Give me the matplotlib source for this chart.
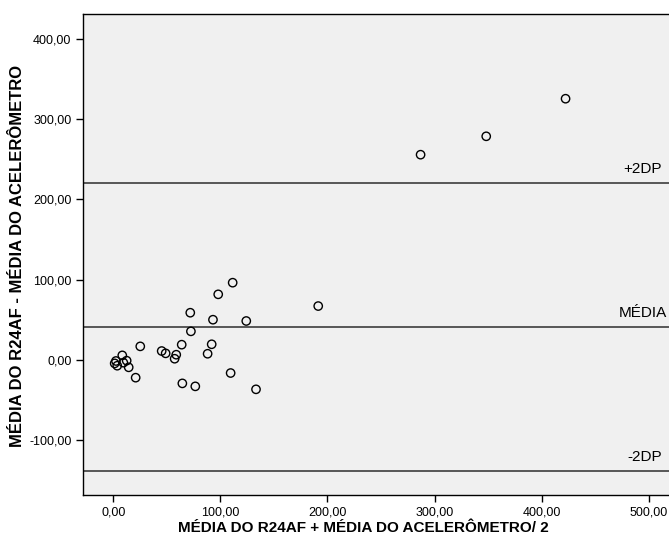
import matplotlib
matplotlib.use("Agg")
import matplotlib.pyplot as plt
from matplotlib.ticker import FuncFormatter

plt.rcParams['font.family'] = ['Liberation Sans', 'DejaVu Sans']

# mean of the two methods (x) and difference (y)
media = [111.5, 98.0, 71.9, 93.1, 124.2, 72.5, 25.2, 63.9, 91.9, 45.2,
         48.9, 58.8, 57.3, 88.1, 8.4, 12.5, 2.5, 1.3, 3.7, 9.4,
         14.4, 20.9, 64.5, 76.6, 109.6, 133.3, 191.4, 287.0, 348.3, 422.4]
diferenca = [96.3, 81.8, 58.9, 50.2, 48.6, 35.7, 17.0, 19.1, 19.6, 11.2,
             8.3, 6.6, 1.6, 7.8, 5.8, -0.8, -1.2, -4.2, -7.1, -3.3,
             -9.1, -22.0, -29.1, -32.8, -16.2, -36.5, 67.2, 255.7, 278.6, 325.4]

media_dif = 40.7
lim_sup = 220.0
lim_inf = -138.6

xticks = [0, 100, 200, 300, 400, 500]
yticks = [-100, 0, 100, 200, 300, 400]

fig = plt.figure(figsize=(6.69, 5.46), dpi=100)
ax = fig.add_axes([83.3 / 669, 1 - 495 / 546, 1 - 83.3 / 669, (495 - 14) / 546])
ax.set_facecolor('#f0f0f0')

ax.scatter(media, diferenca, s=36, facecolors='none', edgecolors='black', linewidths=1.0, zorder=3)

for val, txt, xpos in [(lim_sup, '+2DP', 512.3), (media_dif, 'MÉDIA', 517.5), (lim_inf, '-2DP', 512.3)]:
    ax.axhline(val, color='#3c3c3c', lw=1.2, zorder=2)
    ax.annotate(txt, xy=(xpos, val), xytext=(0, 5), textcoords='offset points',
                ha='right', va='bottom', fontsize=11)

ax.set_xlim(-28, 519)
ax.set_ylim(-168.1, 430.9)
ax.set_xticks(xticks)
ax.set_yticks(yticks)
fmt = FuncFormatter(lambda v, p: f"{v:.2f}".replace('.', ','))
ax.xaxis.set_major_formatter(fmt)
ax.yaxis.set_major_formatter(fmt)
ax.tick_params(direction='out', length=5, width=1, labelsize=9, color='black')
ax.tick_params(axis='x', pad=3)
ax.spines['right'].set_visible(False)
for s in ['left', 'top', 'bottom']:
    ax.spines[s].set_linewidth(1.0)
    ax.spines[s].set_color('black')

ax.set_xlabel('MÉDIA DO R24AF + MÉDIA DO ACELERÔMETRO/ 2', fontsize=11, fontweight='bold', va='center')
ax.set_ylabel('MÉDIA DO R24AF - MÉDIA DO ACELERÔMETRO', fontsize=12, fontweight='bold', va='center')
ax.xaxis.set_label_coords(0.4776, -0.0686)
ax.yaxis.set_label_coords(-0.1115, 0.497)

fig.savefig('out.png', dpi=100)
